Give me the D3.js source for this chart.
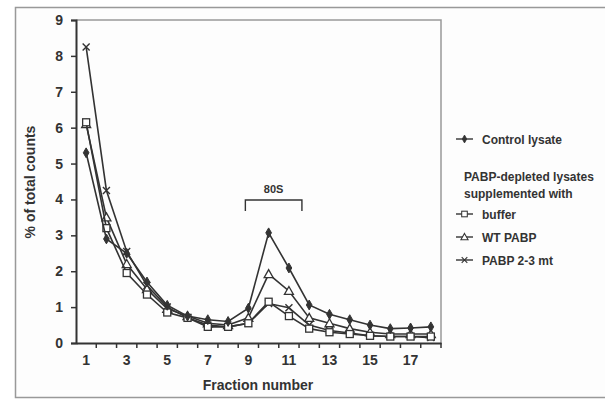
<!DOCTYPE html>
<html>
<head>
<meta charset="utf-8">
<script src="https://cdn.jsdelivr.net/npm/d3@7"></script>
<style>
  html, body { margin: 0; padding: 0; background: #fff; }
  svg { display: block; font-family: "Liberation Sans", Arial, sans-serif; }
</style>
</head>
<body>
<div id="chart"></div>
<script>
const fractions = d3.range(1, 19);
const tickLabels = [1, 3, 5, 7, 9, 11, 13, 15, 17];
const yTicks = [0, 1, 2, 3, 4, 5, 6, 7, 8, 9];

const controlLysate = [5.3, 2.9, 2.5, 1.7, 1.05, 0.75, 0.65, 0.6, 0.97, 3.07, 2.09, 1.06, 0.8, 0.65, 0.5, 0.4, 0.42, 0.45];
const bufferVals = [6.15, 3.2, 1.95, 1.35, 0.85, 0.7, 0.45, 0.45, 0.55, 1.15, 0.75, 0.4, 0.3, 0.25, 0.2, 0.18, 0.18, 0.18];
const wtPabp = [6.1, 3.5, 2.2, 1.5, 0.95, 0.75, 0.55, 0.5, 0.7, 1.92, 1.45, 0.7, 0.55, 0.4, 0.3, 0.25, 0.25, 0.25];
const pabpMt = [8.25, 4.25, 2.55, 1.6, 1.0, 0.7, 0.5, 0.45, 0.55, 1.1, 0.98, 0.5, 0.35, 0.28, 0.2, 0.18, 0.18, 0.15];

const seriesNames = ['Control lysate', 'buffer', 'WT PABP', 'PABP 2-3 mt'];
const seriesValues = [controlLysate, bufferVals, wtPabp, pabpMt];
const markerKinds = ['diamond', 'square', 'triangle', 'cross'];

const W = 605, H = 399;
const ink = '#333';
const svg = d3.select('#chart').append('svg').attr('width', W).attr('height', H);

// outer frame (runs off the right edge)
svg.append('rect').attr('x', 15.5).attr('y', 7.5).attr('width', 620).attr('height', 390)
  .attr('fill', '#fdfdfd').attr('stroke', '#999').attr('stroke-width', 1.5);

const plot = { left: 76, right: 441, top: 20, bottom: 343 };

const x = d3.scaleBand().domain(fractions).range([plot.left, plot.right]);
const y = d3.scaleLinear().domain([0, 9]).range([plot.bottom, plot.top]);
const cx = d => x(d) + x.bandwidth() / 2;

// plot box top + right (light)
svg.append('path')
  .attr('d', `M${plot.left},${plot.top}H${plot.right}V${plot.bottom}`)
  .attr('fill', 'none').attr('stroke', '#999').attr('stroke-width', 1.5);

// y axis
const yAxis = svg.append('g').attr('transform', `translate(${plot.left},0)`)
  .call(d3.axisLeft(y).tickValues(yTicks).tickSize(5).tickPadding(8).tickFormat(d3.format('d')));
// x axis, ticks on band boundaries
const xAxis = svg.append('g').attr('transform', `translate(0,${plot.bottom})`)
  .call(d3.axisBottom(x).tickValues(tickLabels).tickSize(0).tickPadding(12));
xAxis.selectAll('.tick line').remove();
xAxis.append('g').selectAll('line')
  .data(fractions)
  .enter().append('line')
  .attr('x1', d => x(d) + x.bandwidth()).attr('x2', d => x(d) + x.bandwidth())
  .attr('y1', 0).attr('y2', 5)
  .attr('stroke', ink).attr('stroke-width', 1.5);

[xAxis, yAxis].forEach(ax => {
  ax.select('.domain').attr('stroke', ink).attr('stroke-width', 2);
  ax.selectAll('.tick line').attr('stroke', ink).attr('stroke-width', 1.5);
  ax.selectAll('text').attr('fill', ink).style('font-size', '14px').style('font-weight', 'bold');
});

svg.append('text').attr('x', 258).attr('y', 390).attr('text-anchor', 'middle')
  .attr('fill', ink).style('font-size', '14px').style('font-weight', 'bold').text('Fraction number');
svg.append('text').attr('transform', 'translate(35,182)rotate(-90)').attr('text-anchor', 'middle')
  .attr('fill', ink).style('font-size', '14px').style('font-weight', 'bold').text('% of total counts');

// marker drawing
function drawMarker(g, kind) {
  if (kind === 'diamond') {
    g.append('path').attr('d', d3.symbol().type(d3.symbolDiamond).size(28)())
      .attr('fill', ink).attr('stroke', ink).attr('stroke-width', 1);
  } else if (kind === 'square') {
    g.append('rect').attr('x', -3.5).attr('y', -3.5).attr('width', 7).attr('height', 7)
      .attr('fill', '#fff').attr('stroke', ink).attr('stroke-width', 1.3);
  } else if (kind === 'triangle') {
    g.append('path').attr('d', 'M0,-4.5L4.5,3.5L-4.5,3.5Z')
      .attr('fill', '#fff').attr('stroke', ink).attr('stroke-width', 1.3);
  } else {
    g.append('path').attr('d', 'M-3.5,-3.5L3.5,3.5M-3.5,3.5L3.5,-3.5')
      .attr('fill', 'none').attr('stroke', ink).attr('stroke-width', 1.4);
  }
}

const line = d3.line().x((d, i) => cx(fractions[i])).y(d => y(d));

// draw back-to-front so the control sits on top
[3, 2, 1, 0].forEach(s => {
  const g = svg.append('g');
  g.append('path').datum(seriesValues[s]).attr('d', line)
    .attr('fill', 'none').attr('stroke', ink).attr('stroke-width', 1.6);
  seriesValues[s].forEach((v, i) => {
    const m = g.append('g').attr('transform', `translate(${cx(fractions[i])},${y(v)})`);
    drawMarker(m, markerKinds[s]);
  });
});

// 80S bracket over fractions 9-11
const bx1 = cx(9) - 3, bx2 = cx(11) + 13, by = 200;
svg.append('path').attr('d', `M${bx1},${by + 11}V${by}H${bx2}V${by + 11}`)
  .attr('fill', 'none').attr('stroke', ink).attr('stroke-width', 1.4);
svg.append('text').attr('x', (bx1 + bx2) / 2).attr('y', by - 7).attr('text-anchor', 'middle')
  .attr('fill', ink).style('font-size', '11px').style('font-weight', 'bold').text('80S');

// legend
const legend = svg.append('g').attr('fill', ink).style('font-size', '12px').style('font-weight', 'bold');
const legendRows = [139, 214, 237, 260];
seriesNames.forEach((name, s) => {
  const g = legend.append('g').attr('transform', `translate(456,${legendRows[s]})`);
  g.append('line').attr('x1', 0).attr('x2', 17).attr('stroke', ink).attr('stroke-width', 1.4);
  const m = g.append('g').attr('transform', 'translate(8.5,0) scale(0.8)');
  drawMarker(m, markerKinds[s]);
  g.append('text').attr('x', 26).attr('y', 4.5).text(name);
});
legend.append('text').attr('x', 464).attr('y', 181).text('PABP-depleted lysates');
legend.append('text').attr('x', 464).attr('y', 198).text('supplemented with');
</script>
</body>
</html>
